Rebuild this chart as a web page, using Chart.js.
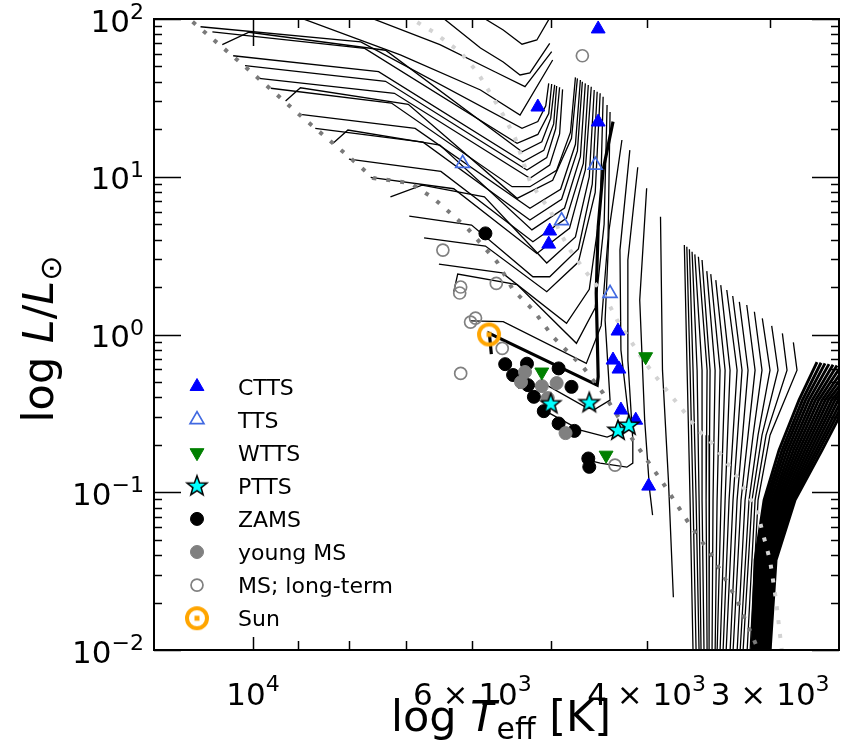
<!DOCTYPE html>
<html>
<head>
<meta charset="utf-8">
<script src="https://cdn.jsdelivr.net/npm/chart.js@4.4.1/dist/chart.umd.min.js"></script>
<style>
  html, body { margin: 0; padding: 0; background: #fff; }
</style>
</head>
<body>
<canvas id="hrd" width="841" height="744"></canvas>
<script>
"use strict";
// all values are log10(Teff / K) and log10(L / Lsun)

// observed stars
const cttsLogT = [3.651, 3.712, 3.651, 3.700, 3.701, 3.631, 3.636, 3.630, 3.628, 3.613, 3.600];
const cttsLogL = [1.937, 1.442, 1.347, 0.656, 0.573, 0.022, -0.162, -0.219, -0.479, -0.543, -0.961];
const ttsLogT = [3.788, 3.688, 3.654, 3.639];
const ttsLogL = [1.085, 0.722, 1.074, 0.261];
const wttsLogT = [3.708, 3.603, 3.643];
const wttsLogL = [-0.238, -0.141, -0.765];
const pttsLogT = [3.699, 3.660, 3.631, 3.620];
const pttsLogL = [-0.438, -0.431, -0.606, -0.574];
const zamsLogT = [3.765, 3.745, 3.723, 3.737, 3.691, 3.678, 3.716, 3.706, 3.691, 3.675, 3.661, 3.660, 3.722];
const zamsLogL = [0.641, -0.188, -0.185, -0.257, -0.215, -0.332, -0.395, -0.486, -0.564, -0.611, -0.786, -0.839, -0.321];
const youngLogT = [3.725, 3.729, 3.708, 3.702, 3.693, 3.684];
const youngLogL = [-0.238, -0.302, -0.327, -0.403, -0.308, -0.625];
const msLogT = [3.667, 3.808, 3.790, 3.791, 3.754, 3.775, 3.780, 3.748, 3.790, 3.634];
const msLogL = [1.767, 0.535, 0.301, 0.263, 0.324, 0.104, 0.079, -0.088, -0.247, -0.828];
const sunT = 5772, sunL = 1;

// dotted loci
const zamsLineT = [4.070, 4.0632, 4.0087, 3.9491, 3.9016, 3.8784, 3.8410, 3.8177, 3.7834, 3.7531, 3.7369, 3.7167, 3.6965, 3.6662, 3.6460, 3.6157, 3.5854, 3.5581, 3.5349, 3.5106, 3.4904, 3.4874];
const zamsLineL = [2.05, 1.994, 1.702, 1.372, 1.119, 0.992, 0.960, 0.865, 0.675, 0.459, 0.282, 0.155, -0.016, -0.207, -0.372, -0.670, -0.942, -1.209, -1.411, -1.684, -1.982, -2.03];
const isoLineT = [3.8460, 3.8177, 3.7905, 3.7733, 3.7602, 3.7470, 3.7349, 3.7268, 3.7197, 3.7096, 3.6995, 3.6894, 3.6793, 3.6672, 3.6571, 3.6460, 3.6318, 3.6187, 3.6056, 3.5884, 3.5753, 3.5631, 3.5500, 3.5359, 3.5227, 3.5106, 3.5005, 3.4904, 3.4854, 3.4773, 3.4712, 3.4652];
const isoLineL = [2.025, 1.918, 1.791, 1.664, 1.531, 1.391, 1.245, 1.093, 0.966, 0.871, 0.789, 0.643, 0.535, 0.428, 0.345, 0.263, 0.091, -0.035, -0.162, -0.302, -0.403, -0.498, -0.606, -0.689, -0.796, -0.904, -1.006, -1.113, -1.240, -1.431, -1.684, -2.014];

// solar track (thick)
const sunTrack = [[3.759, -0.124], [3.761, 0.007], [3.652, -0.321], [3.651, -0.268], [3.653, 0.263], [3.651, 0.683], [3.646, 1.043], [3.636, 1.349]];

// intermediate mass tracks: ZAMS end -> Henyey -> Hayashi
const upperTracks = [
  [[3.767, 2.007], [3.747, 1.930], [3.728, 1.840], [3.713, 1.867], [3.700, 2.007]],
  [[3.808, 2.007], [3.770, 1.816], [3.747, 1.727], [3.730, 1.645], [3.720, 1.658], [3.700, 1.846]],
  [[3.881, 2.007], [3.811, 1.837], [3.755, 1.664], [3.725, 1.571], [3.698, 1.793]],
  [[3.952, 2.007], [3.851, 1.772], [3.770, 1.550], [3.730, 1.391], [3.697, 1.740]],
  [[4.053, 1.951], [3.891, 1.855], [3.728, 1.307], [3.712, 1.350], [3.704, 1.450], [3.701, 1.592]],
  [[4.041, 1.919], [3.887, 1.814], [3.733, 1.212], [3.712, 1.268], [3.701, 1.400], [3.698, 1.588]],
  [[4.031, 1.837], [4.004, 1.916], [3.866, 1.802], [3.728, 1.158], [3.708, 1.222], [3.699, 1.370], [3.695, 1.582]],
  [[4.020, 1.767], [3.873, 1.666], [3.727, 1.095], [3.706, 1.167], [3.696, 1.335], [3.693, 1.575]],
  [[4.008, 1.704], [3.866, 1.605], [3.723, 1.043], [3.703, 1.121], [3.694, 1.304], [3.690, 1.567]],
  [[3.994, 1.624], [3.857, 1.529], [3.720, 0.990], [3.700, 1.074], [3.690, 1.272], [3.687, 1.554]],
  [[3.982, 1.561], [3.860, 1.467], [3.738, 0.937], [3.720, 0.937], [3.693, 1.041], [3.679, 1.283], [3.674, 1.630]],
  [[3.967, 1.480], [3.952, 1.564], [3.843, 1.459], [3.733, 0.863], [3.697, 0.977], [3.678, 1.244], [3.672, 1.624]],
  [[3.952, 1.396], [3.836, 1.306], [3.720, 0.800], [3.689, 0.921], [3.674, 1.206], [3.669, 1.613]],
  [[3.937, 1.307], [3.828, 1.219], [3.720, 0.726], [3.688, 0.857], [3.672, 1.164], [3.667, 1.602]],
  [[3.919, 1.212], [3.904, 1.296], [3.811, 1.201], [3.718, 0.663], [3.685, 0.802], [3.669, 1.127], [3.664, 1.592]],
  [[3.903, 1.112], [3.810, 1.034], [3.717, 0.588], [3.683, 0.738], [3.666, 1.084], [3.661, 1.582]],
  [[3.881, 0.996], [3.797, 0.924], [3.713, 0.514], [3.680, 0.673], [3.664, 1.043], [3.658, 1.571]],
  [[3.861, 0.873], [3.829, 0.947], [3.766, 0.873], [3.703, 0.453], [3.674, 0.618], [3.660, 1.001], [3.655, 1.550]],
  [[3.842, 0.751], [3.779, 0.694], [3.717, 0.366], [3.700, 0.366], [3.671, 0.542], [3.657, 0.953], [3.652, 1.539]],
  [[3.827, 0.612], [3.765, 0.561], [3.703, 0.271], [3.671, 0.459], [3.654, 0.900], [3.649, 1.529]],
  [[3.812, 0.446], [3.748, 0.390], [3.683, 0.071], [3.660, 0.286], [3.649, 0.789], [3.646, 1.507]],
  [[3.797, 0.271], [3.793, 0.383], [3.733, 0.317], [3.673, -0.056], [3.654, 0.170], [3.645, 0.699], [3.642, 1.455]],
  [[3.780, 0.087], [3.747, 0.081], [3.663, -0.183], [3.648, 0.056], [3.641, 0.613], [3.639, 1.410]],
  [[3.732, -0.340], [3.703, -0.321], [3.662, -0.467], [3.654, -0.473], [3.639, -0.416], [3.644, 0.091], [3.640, 0.663], [3.627, 1.233]],
  [[3.706, -0.479], [3.669, -0.606], [3.642, -0.650], [3.632, -0.625], [3.619, -0.587], [3.628, -0.099], [3.629, 0.535], [3.619, 1.169]],
  [[3.661, -0.796], [3.649, -0.815], [3.622, -0.841], [3.616, -0.815], [3.616, -0.669], [3.621, -0.162], [3.621, 0.472], [3.611, 1.060]],
  [[3.596, -1.145], [3.599, -0.987], [3.604, -0.543], [3.609, 0.218], [3.602, 0.927]],
  [[3.575, -1.665], [3.580, -0.923], [3.586, -0.226], [3.588, 0.747]]
];

// low mass Hayashi tracks: top point, then log Teff at fixed log L levels
const hayashiTopT = [3.5639, 3.5614, 3.5588, 3.5561, 3.5533, 3.5497, 3.5460, 3.5412, 3.5372, 3.5321, 3.5271, 3.5210, 3.5150, 3.5083, 3.5008, 3.4931, 3.4851, 3.4756, 3.4648, 3.4537];
const hayashiTopL = [0.567, 0.556, 0.540, 0.525, 0.508, 0.493, 0.472, 0.402, 0.383, 0.345, 0.313, 0.282, 0.244, 0.207, 0.187, 0.144, 0.102, 0.055, 0.007, -0.050];
const hayashiLevels = [-0.226, -0.638, -1.050, -2.014];
const hayashiT = [
  [3.5611, 3.5596, 3.5581, 3.5551], [3.5581, 3.5566, 3.5551, 3.5520], [3.5551, 3.5536, 3.5520, 3.5490],
  [3.5510, 3.5500, 3.5490, 3.5470], [3.5460, 3.5460, 3.5460, 3.5440], [3.5409, 3.5414, 3.5419, 3.5409],
  [3.5379, 3.5384, 3.5389, 3.5389], [3.5328, 3.5339, 3.5349, 3.5359], [3.5278, 3.5293, 3.5308, 3.5328],
  [3.5227, 3.5248, 3.5268, 3.5308], [3.5177, 3.5202, 3.5227, 3.5278], [3.5106, 3.5147, 3.5187, 3.5248],
  [3.5056, 3.5101, 3.5147, 3.5217], [3.4995, 3.5050, 3.5106, 3.5177], [3.4924, 3.4995, 3.5066, 3.5147],
  [3.4854, 3.4944, 3.5025, 3.5106], [3.4773, 3.4894, 3.4985, 3.5076], [3.4692, 3.4854, 3.4955, 3.5046],
  [3.4601, 3.4813, 3.4924, 3.5005], [3.4500, 3.4773, 3.4894, 3.4975]
];

// very low mass bundle
const bundleStartT = [3.4298, 3.4257, 3.4217, 3.4177, 3.4136, 3.4096, 3.4055, 3.4015, 3.3975, 3.3934, 3.3894, 3.3853, 3.3813, 3.3772, 3.3732, 3.3692];
const bundleStartL = [-0.175, -0.179, -0.183, -0.188, -0.192, -0.196, -0.200, -0.205, -0.209, -0.213, -0.217, -0.221, -0.226, -0.230, -0.234, -0.238];
const bundleLevels = [-0.416, -0.733, -1.050, -1.430, -2.014];
const bundleT = [
  [3.4480, 3.4682, 3.4833, 3.4924, 3.4955], [3.4446, 3.4652, 3.4812, 3.4910, 3.4942],
  [3.4414, 3.4624, 3.4792, 3.4896, 3.4930], [3.4381, 3.4595, 3.4771, 3.4882, 3.4918],
  [3.4347, 3.4566, 3.4749, 3.4868, 3.4906], [3.4315, 3.4537, 3.4729, 3.4854, 3.4894],
  [3.4282, 3.4508, 3.4708, 3.4839, 3.4882], [3.4248, 3.4479, 3.4687, 3.4825, 3.4870],
  [3.4216, 3.4450, 3.4667, 3.4811, 3.4858], [3.4183, 3.4421, 3.4645, 3.4797, 3.4845],
  [3.4149, 3.4392, 3.4624, 3.4783, 3.4833], [3.4117, 3.4363, 3.4604, 3.4769, 3.4821],
  [3.4084, 3.4334, 3.4583, 3.4754, 3.4809], [3.4050, 3.4305, 3.4562, 3.4740, 3.4797],
  [3.4018, 3.4277, 3.4541, 3.4726, 3.4785], [3.3985, 3.4247, 3.4520, 3.4712, 3.4773]
];

// axis ticks and labels
const xTickValues = [10000, 6000, 4000, 3000];
const xTickBase = ['10', '6 \u00d7 10', '4 \u00d7 10', '3 \u00d7 10'];
const xTickSup = ['4', '3', '3', '3'];
const yTickValues = [100, 10, 1, 0.1, 0.01];
const yTickSup = ['2', '1', '0', '\u22121', '\u22122'];
const legendLabels = ['CTTS', 'TTS', 'WTTS', 'PTTS', 'ZAMS', 'young MS', 'MS; long-term', 'Sun'];

const FONT = 'DejaVu Sans';

function pts(lt, ll) { return lt.map((t, i) => ({ x: Math.pow(10, t), y: Math.pow(10, ll[i]) })); }
function pairPts(track) { return track.map(p => ({ x: Math.pow(10, p[0]), y: Math.pow(10, p[1]) })); }

function makeStar() {
  const c = document.createElement('canvas');
  c.width = 26; c.height = 26;
  const g = c.getContext('2d');
  g.beginPath();
  for (let i = 0; i < 10; i++) {
    const r = i % 2 === 0 ? 10.5 : 4.3;
    const a = -Math.PI / 2 + i * Math.PI / 5;
    const px = 13 + r * Math.cos(a), py = 13.5 + r * Math.sin(a);
    if (i === 0) g.moveTo(px, py); else g.lineTo(px, py);
  }
  g.closePath();
  g.fillStyle = '#00ffff'; g.fill();
  g.lineWidth = 1.5; g.strokeStyle = '#000'; g.stroke();
  return c;
}
function makeSun() {
  const c = document.createElement('canvas');
  c.width = 30; c.height = 30;
  const g = c.getContext('2d');
  g.strokeStyle = '#ffa500'; g.lineWidth = 4;
  g.beginPath(); g.arc(15, 15, 10, 0, 2 * Math.PI); g.stroke();
  g.fillStyle = '#ffa500'; g.fillRect(12.5, 12.5, 5, 5);
  return c;
}
const starImg = makeStar();
const sunImg = makeSun();

const datasets = [];
function trackSet(data, width) {
  return { type: 'scatter', showLine: true, data: data, borderColor: '#000', borderWidth: width,
           pointRadius: 0, fill: false, tension: 0, order: 20 };
}
upperTracks.forEach(t => datasets.push(trackSet(pairPts(t), 1.3)));
hayashiT.forEach((row, i) => {
  datasets.push(trackSet(pts([hayashiTopT[i]].concat(row), [hayashiTopL[i]].concat(hayashiLevels)), 1.3));
});
bundleT.forEach((row, i) => {
  datasets.push(trackSet(pts([bundleStartT[i]].concat(row), [bundleStartL[i]].concat(bundleLevels)), 2.9));
});
const sunSet = trackSet(pairPts(sunTrack), 3.2);
sunSet.order = 19;
datasets.push(sunSet);

function dotted(data, color) {
  return { type: 'scatter', showLine: true, data: data, borderColor: color, borderWidth: 4,
           borderDash: [4, 10], borderCapStyle: 'butt', pointRadius: 0, fill: false, order: 15 };
}
datasets.push(dotted(pts(isoLineT, isoLineL), '#d3d3d3'));
datasets.push(dotted(pts(zamsLineT, zamsLineL), '#7a7a7a'));

function markers(data, style, order) {
  return Object.assign({ type: 'scatter', data: data, order: order }, style);
}
const styles = [
  { pointStyle: 'triangle', pointRadius: 8, pointBackgroundColor: '#0000ff', pointBorderColor: '#0000ff', pointBorderWidth: 1 },
  { pointStyle: 'triangle', pointRadius: 8, pointBackgroundColor: 'rgba(0,0,0,0)', pointBorderColor: '#4169e1', pointBorderWidth: 1.7 },
  { pointStyle: 'triangle', pointRadius: 8, pointRotation: 180, pointBackgroundColor: '#008000', pointBorderColor: '#008000', pointBorderWidth: 1 },
  { pointStyle: starImg, pointRadius: 10 },
  { pointStyle: 'circle', pointRadius: 6.5, pointBackgroundColor: '#000', pointBorderColor: '#000', pointBorderWidth: 1 },
  { pointStyle: 'circle', pointRadius: 6.5, pointBackgroundColor: '#808080', pointBorderColor: '#808080', pointBorderWidth: 1 },
  { pointStyle: 'circle', pointRadius: 6, pointBackgroundColor: 'rgba(0,0,0,0)', pointBorderColor: '#808080', pointBorderWidth: 1.7 },
  { pointStyle: sunImg, pointRadius: 12 }
];
datasets.push(markers(pts(zamsLogT, zamsLogL), styles[4], 9));
datasets.push(markers(pts(youngLogT, youngLogL), styles[5], 8));
datasets.push(markers(pts(msLogT, msLogL), styles[6], 7));
datasets.push(markers(pts(cttsLogT, cttsLogL), styles[0], 5));
datasets.push(markers(pts(ttsLogT, ttsLogL), styles[1], 5));
datasets.push(markers(pts(wttsLogT, wttsLogL), styles[2], 5));
datasets.push(markers(pts(pttsLogT, pttsLogL), styles[3], 4));
datasets.push(markers([{ x: sunT, y: sunL }], styles[7], 1));

function richWidth(ctx, parts) {
  let w = 0;
  parts.forEach(p => { ctx.font = p.f; w += ctx.measureText(p.t).width; });
  return w;
}
function drawRich(ctx, parts, x, y) {
  let cx = x;
  parts.forEach(p => {
    ctx.font = p.f;
    ctx.fillText(p.t, cx, y + (p.dy || 0));
    cx += ctx.measureText(p.t).width;
  });
}

function legendMarker(ctx, i, x, y) {
  const s = styles[i];
  ctx.save();
  if (s.pointStyle === 'triangle') {
    const r = s.pointRadius;
    ctx.translate(x, y);
    if (s.pointRotation) ctx.rotate(Math.PI);
    ctx.beginPath();
    for (let k = 0; k < 3; k++) {
      const a = k * 2 * Math.PI / 3;
      const px = Math.sin(a) * r, py = -Math.cos(a) * r;
      if (k === 0) ctx.moveTo(px, py); else ctx.lineTo(px, py);
    }
    ctx.closePath();
    ctx.fillStyle = s.pointBackgroundColor; ctx.fill();
    ctx.lineWidth = s.pointBorderWidth; ctx.strokeStyle = s.pointBorderColor; ctx.stroke();
  } else if (s.pointStyle === 'circle') {
    ctx.beginPath(); ctx.arc(x, y, s.pointRadius, 0, 2 * Math.PI);
    ctx.fillStyle = s.pointBackgroundColor; ctx.fill();
    ctx.lineWidth = s.pointBorderWidth; ctx.strokeStyle = s.pointBorderColor; ctx.stroke();
  } else {
    const img = s.pointStyle;
    ctx.drawImage(img, x - img.width / 2, y - img.height / 2);
  }
  ctx.restore();
}

const hrFrame = {
  id: 'hrFrame',
  afterDraw(chart) {
    const ctx = chart.ctx, a = chart.chartArea, xs = chart.scales.x, ys = chart.scales.y;
    ctx.save();
    ctx.strokeStyle = '#000';
    ctx.lineWidth = 1.5;
    const seg = (x1, y1, x2, y2) => { ctx.beginPath(); ctx.moveTo(x1, y1); ctx.lineTo(x2, y2); ctx.stroke(); };
    // y ticks, inward on both sides
    for (let e = -2; e <= 2; e++) {
      for (let k = 1; k <= 9; k++) {
        if (e === 2 && k > 1) break;
        const py = Math.round(ys.getPixelForValue(k * Math.pow(10, e))) + 0.5;
        const len = k === 1 ? 27 : 8;
        seg(a.left, py, a.left + len, py);
        seg(a.right, py, a.right - len, py);
      }
    }
    // x ticks
    [3000, 4000, 5000, 6000, 7000, 8000, 9000, 10000].forEach(v => {
      const px = Math.round(xs.getPixelForValue(v)) + 0.5;
      const major = v === 10000;
      seg(px, a.bottom, px, a.bottom - (major ? 13 : 9));
      seg(px, a.top, px, a.top + (major ? 27 : 9));
    });
    ctx.lineWidth = 2;
    ctx.strokeRect(a.left, a.top, a.right - a.left, a.bottom - a.top);

    ctx.fillStyle = '#000';
    ctx.textBaseline = 'alphabetic';
    ctx.textAlign = 'left';
    // y tick labels
    yTickValues.forEach((v, i) => {
      const py = ys.getPixelForValue(v);
      const parts = [{ t: '10', f: '31px ' + FONT, dy: 12.5 }, { t: yTickSup[i], f: '22px ' + FONT, dy: 0 }];
      const w = richWidth(ctx, parts);
      drawRich(ctx, parts, 144 - w, py);
    });
    // x tick labels
    xTickValues.forEach((v, i) => {
      const px = xs.getPixelForValue(v);
      const parts = [{ t: xTickBase[i], f: '31px ' + FONT }, { t: xTickSup[i], f: '22px ' + FONT, dy: -14 }];
      const w = richWidth(ctx, parts);
      drawRich(ctx, parts, px - w / 2, 705);
    });
    // axis titles
    const xt = [{ t: 'log ', f: '43px ' + FONT }, { t: 'T', f: 'italic 43px ' + FONT },
                { t: 'eff', f: '30px ' + FONT, dy: 8 }, { t: ' [K]', f: '43px ' + FONT }];
    drawRich(ctx, xt, 501 - richWidth(ctx, xt) / 2, 731);
    const yt = [{ t: 'log ', f: '43px ' + FONT }, { t: 'L', f: 'italic 43px ' + FONT }, { t: '/', f: '43px ' + FONT },
                { t: 'L', f: 'italic 43px ' + FONT }, { t: '\u2299', f: '30px ' + FONT, dy: 8 }];
    ctx.save();
    ctx.translate(53, 339);
    ctx.rotate(-Math.PI / 2);
    drawRich(ctx, yt, -richWidth(ctx, yt) / 2, 0);
    ctx.restore();
    // legend
    legendLabels.forEach((lab, i) => {
      const y = 386.5 + i * 33.1;
      legendMarker(ctx, i, 197, y);
      ctx.font = '22px ' + FONT;
      ctx.fillStyle = '#000';
      ctx.fillText(lab, 238, y + 8);
    });
    ctx.restore();
  }
};

new Chart(document.getElementById('hrd').getContext('2d'), {
  type: 'scatter',
  data: { datasets: datasets },
  options: {
    responsive: false,
    animation: false,
    devicePixelRatio: 1,
    events: [],
    layout: { autoPadding: false, padding: { top: 19, right: 2, left: 0, bottom: 0 } },
    plugins: { legend: { display: false }, tooltip: { enabled: false } },
    scales: {
      x: {
        type: 'logarithmic', reverse: true, min: 2556, max: 12590, bounds: 'data',
        grid: { display: false }, border: { display: false }, ticks: { display: false },
        afterFit: s => { s.height = 94; }
      },
      y: {
        type: 'logarithmic', min: 0.01, max: 100, bounds: 'data',
        grid: { display: false }, border: { display: false }, ticks: { display: false },
        afterFit: s => { s.width = 154; }
      }
    }
  },
  plugins: [hrFrame]
});
</script>
</body>
</html>
